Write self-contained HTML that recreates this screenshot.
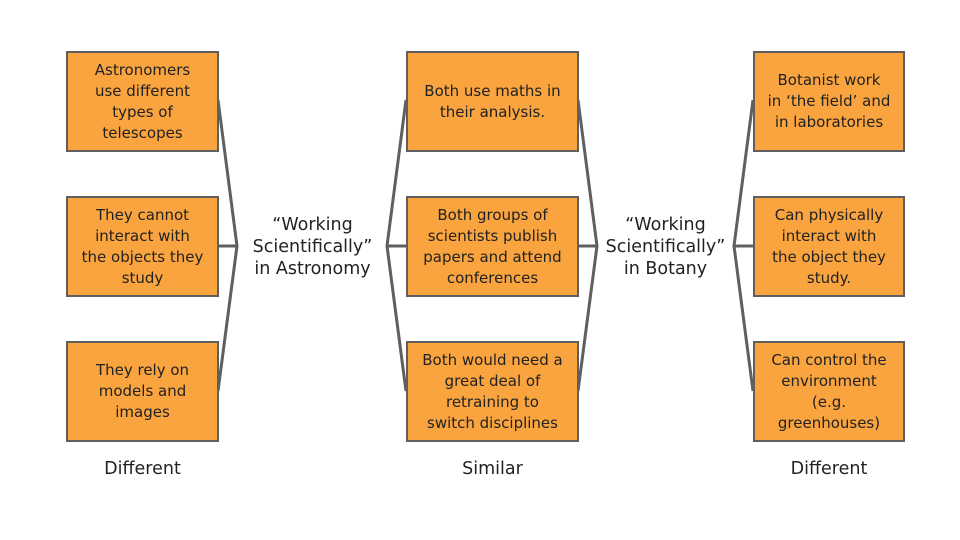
<!DOCTYPE html>
<html><head><meta charset="utf-8"><style>
body{margin:0;width:960px;height:540px;background:#fff;position:relative;overflow:hidden;font-family:"DejaVu Sans","Liberation Sans",sans-serif}
.b{position:absolute;box-sizing:border-box;background:#f9a43f;border:2.5px solid #5f5f5f;display:flex;align-items:center;justify-content:center;text-align:center;font-size:15px;line-height:21px;color:#222;padding:0 2px;white-space:nowrap}
.l{position:absolute;text-align:center;font-family:"DejaVu Sans","Liberation Sans",sans-serif;font-size:17.5px;line-height:22px;color:#222;white-space:nowrap}
</style></head><body>
<svg width="960" height="540" style="position:absolute;left:0;top:0">
<g stroke="#5f5f5f" stroke-width="3" fill="none">
<path d="M218 100 L237 246 L218 391 M218 246 L237 246"/>
<path d="M406 100 L387 246 L406 391 M406 246 L387 246"/>
<path d="M578 100 L597 246 L578 391 M578 246 L597 246"/>
<path d="M753 100 L734 246 L753 391 M753 246 L734 246"/>
</g></svg>
<div class="b" style="left:66px;top:51px;width:153px;height:101px">Astronomers<br>use different<br>types of<br>telescopes</div>
<div class="b" style="left:66px;top:196px;width:153px;height:101px">They cannot<br>interact with<br>the objects they<br>study</div>
<div class="b" style="left:66px;top:341px;width:153px;height:101px">They rely on<br>models and<br>images</div>
<div class="b" style="left:406px;top:51px;width:173px;height:101px">Both use maths in<br>their analysis.</div>
<div class="b" style="left:406px;top:196px;width:173px;height:101px">Both groups of<br>scientists publish<br>papers and attend<br>conferences</div>
<div class="b" style="left:406px;top:341px;width:173px;height:101px">Both would need a<br>great deal of<br>retraining to<br>switch disciplines</div>
<div class="b" style="left:753px;top:51px;width:152px;height:101px">Botanist work<br>in ‘the field’ and<br>in laboratories</div>
<div class="b" style="left:753px;top:196px;width:152px;height:101px">Can physically<br>interact with<br>the object they<br>study.</div>
<div class="b" style="left:753px;top:341px;width:152px;height:101px">Can control the<br>environment<br>(e.g.<br>greenhouses)</div>
<div class="l" style="left:240px;top:214px;width:145px">“Working<br>Scientifically”<br>in Astronomy</div>
<div class="l" style="left:597px;top:214px;width:137px">“Working<br>Scientifically”<br>in Botany</div>
<div class="l" style="left:66px;top:458px;width:153px">Different</div>
<div class="l" style="left:406px;top:458px;width:173px">Similar</div>
<div class="l" style="left:753px;top:458px;width:152px">Different</div>
</body></html>
